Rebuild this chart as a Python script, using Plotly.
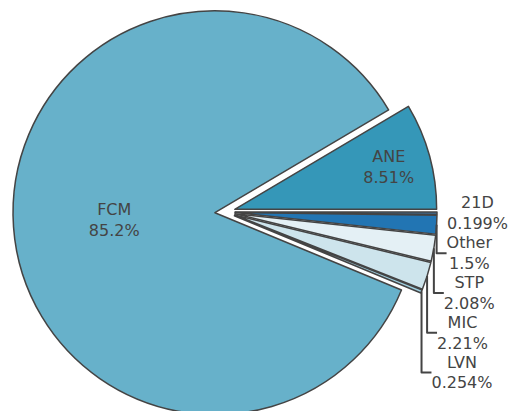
import plotly.graph_objects as go

labels = ["21D", "Other", "STP", "MIC", "LVN", "FCM", "ANE"]
values = [0.199, 1.5, 2.08, 2.21, 0.254, 85.2, 8.51]
colors = ["#3d6f9a", "#2275b3", "#e4f0f5", "#cde4ec", "#9fcfe0", "#67b1ca", "#3597b8"]
pulls = [0.05, 0.05, 0.05, 0.05, 0.05, 0.05, 0.05]

fig = go.Figure(go.Pie(
    labels=labels,
    values=values,
    sort=False,
    direction="clockwise",
    rotation=90,
    pull=pulls,
    textinfo="label+percent",
    textposition="auto",
    textfont=dict(family="DejaVu Sans", size=16, color="#444"),
    marker=dict(colors=colors, line=dict(color="#444", width=1.5)),
    showlegend=False,
    automargin=False,
))
fig.update_layout(
    width=511, height=424,
    margin=dict(l=0, r=61, t=0, b=0, autoexpand=False),
    paper_bgcolor="white",
    font=dict(family="DejaVu Sans", size=16, color="#444"),
)
fig.write_html(
    "out.html",
    config={"displayModeBar": False},
    post_script="document.body.style.margin='0';document.body.style.overflow='hidden';",
)
